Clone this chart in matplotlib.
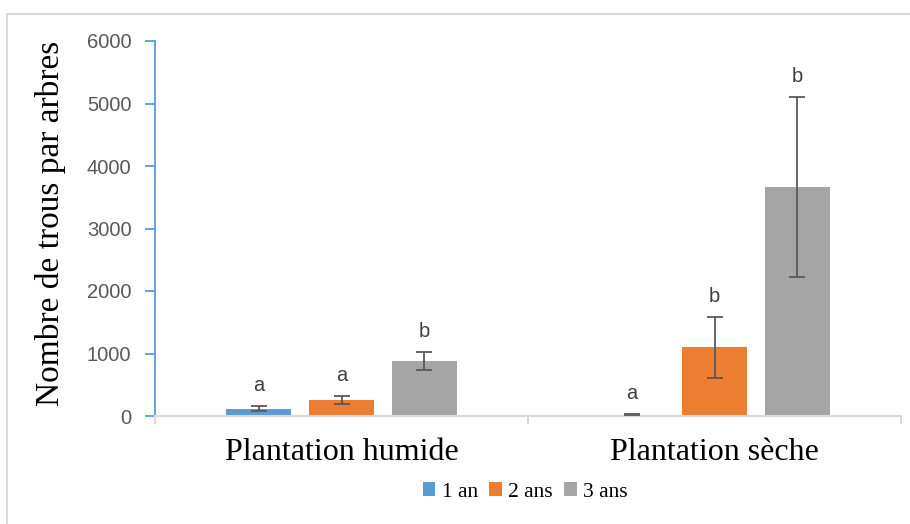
import matplotlib.pyplot as plt
import numpy as np
from matplotlib.patches import Rectangle

sites = ["Plantation humide", "Plantation sèche"]
ages = ["1 an", "2 ans", "3 ans"]
means = {
    "1 an": [120, 20],
    "2 ans": [250, 1100],
    "3 ans": [880, 3660],
}
errors = {
    "1 an": [35, 8],
    "2 ans": [65, 490],
    "3 ans": [145, 1440],
}
letters = {
    "1 an": ["a", "a"],
    "2 ans": ["a", "b"],
    "3 ans": ["b", "b"],
}
colors = ["#5B9BD5", "#ED7D31", "#A5A5A5"]

serif = ["Liberation Serif", "DejaVu Serif"]
sans = ["Liberation Sans", "DejaVu Sans"]

fig = plt.figure(figsize=(9.1, 5.24), dpi=100)
fig.patches.append(Rectangle((7 / 910, -0.1), 1.2, 1 - 14 / 524 + 0.1,
                             transform=fig.transFigure, fill=False,
                             edgecolor="#D9D9D9", linewidth=1.5))
ax = fig.add_axes([155 / 910, 1 - 416 / 524, (901 - 155) / 910, (416 - 41) / 524])

x = np.arange(len(sites))
width = 0.174
step = 0.2225
for i, age in enumerate(ages):
    pos = x + (i - 1) * step
    ax.bar(pos, means[age], width, color=colors[i], label=age, zorder=2)
    ax.errorbar(pos, means[age], yerr=errors[age], fmt="none", ecolor="#595959",
                elinewidth=1.3, capsize=6, capthick=1.3, zorder=3)
    for p, m, e, t in zip(pos, means[age], errors[age], letters[age]):
        ax.annotate(t, (p, m + e), xytext=(0, 8), textcoords="offset points",
                    ha="center", va="bottom", fontsize=14.5, color="#404040",
                    family=sans)

ax.set_xlim(-0.5, 1.5)
ax.set_ylim(0, 6000)
ax.set_yticks(np.arange(0, 6001, 1000))
ax.set_xticks(x)
ax.set_xticklabels(sites, family=serif, fontsize=23)
ax.set_xticks([-0.5, 0.5, 1.5], minor=True)
ax.tick_params(axis="x", which="major", length=0, pad=16)
ax.tick_params(axis="x", which="minor", length=6, color="#D9D9D9", width=1.5)
ax.tick_params(axis="y", length=7, color="#5B9BD5", width=1.3, labelcolor="#595959",
               labelsize=14.5, pad=10)
for lab in ax.get_yticklabels():
    lab.set_family(sans)

for s in ["top", "right"]:
    ax.spines[s].set_visible(False)
ax.spines["left"].set_color("#5B9BD5")
ax.spines["left"].set_linewidth(1.3)
ax.spines["bottom"].set_color("#D9D9D9")
ax.spines["bottom"].set_linewidth(1.5)

fig.text(0.056, 1 - 223 / 524, "Nombre de trous par arbres", rotation=90,
         ha="center", va="center", family=serif, fontsize=24)

fig.legend(loc="center", bbox_to_anchor=(0.577, 1 - 492 / 524), ncol=3, frameon=False,
           prop={"family": serif, "size": 15.5}, handlelength=0.6, handleheight=0.6,
           handletextpad=0.3, columnspacing=0.5)

fig.savefig("out.png", dpi=100)
